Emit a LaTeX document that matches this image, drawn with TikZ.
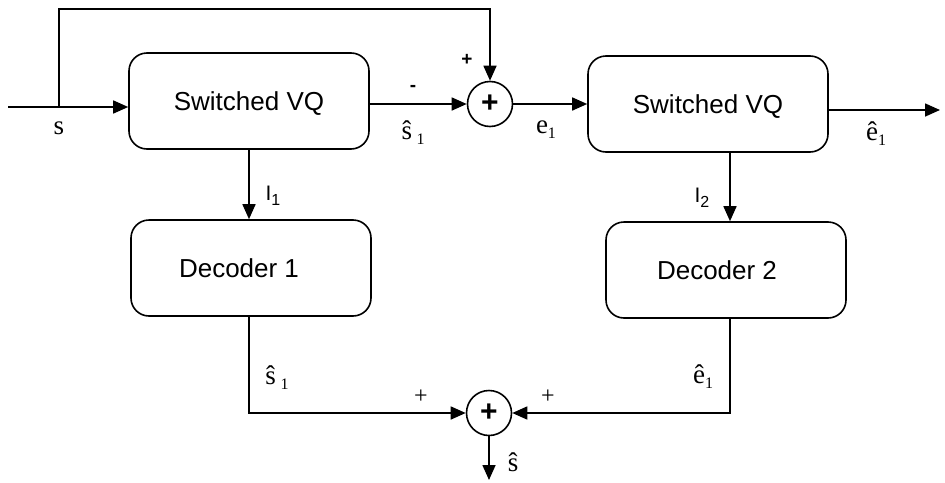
\documentclass[tikz,border=0pt]{standalone}
\usepackage{fontspec}
\setmainfont{Liberation Serif}
\setsansfont{Liberation Sans}
\usetikzlibrary{arrows.meta}
\newcommand\fsz[1]{\fontsize{#1}{#1}\selectfont}
\newcommand\lowsub[1]{\raisebox{-5pt}{\fsz{16}#1}}
\begin{document}
\begin{tikzpicture}[x=1pt,y=-1pt,
  blk/.style={draw,line width=1.6pt,rounded corners=18pt,minimum width=240pt,minimum height=96pt,text depth=0pt,font=\sffamily\fsz{26}},
  sumn/.style={draw,circle,line width=1.6pt,minimum size=45pt,inner sep=0pt,font=\sffamily\bfseries\fsz{30}},
  wire/.style={line width=1.6pt},
  arr/.style={wire,-{Triangle[length=15pt,width=13pt]}},
  lbl/.style={inner sep=0pt,font=\fsz{27}},
  slbl/.style={inner sep=0pt,font=\sffamily\fsz{21}},
  sgn/.style={inner sep=0pt,font=\sffamily\bfseries\fsz{19}},
  psgn/.style={inner sep=0pt,font=\fsz{24}}]
\useasboundingbox (0,0) rectangle (945,482);
\node[blk] (box1) at (249,101) {Switched VQ};
\node[blk] (box2) at (708,104) {Switched VQ};
\node[blk] (dec1) at (251,268) {Decoder 1\hspace*{24pt}};
\node[blk] (dec2) at (726,270) {Decoder 2\hspace*{18pt}};
\node[sumn] (sum1) at (490,104) {+};
\node[sumn] (sum2) at (489,413) {+};
\coordinate (in) at (8,107);
\coordinate (tap) at (59,107);
\coordinate (top) at (490,9);
\coordinate (out2) at (940,110);
\coordinate (out3) at (489,480);
\coordinate (x1) at (249,0);
\coordinate (x2) at (730,0);
% connectors
\draw[arr] (in) -- (in -| box1.west);
\draw[arr] (tap) |- (top) -- (sum1.north);
\draw[arr] (sum1.west -| box1.east) -- (sum1.west);
\draw[arr] (sum1.east) -- (box2.west);
\draw[arr] (out2 -| box2.east) -- (out2);
\draw[arr] (box1.south -| x1) -- (dec1.north -| x1);
\draw[arr] (box2.south -| x2) -- (dec2.north -| x2);
\draw[arr] (dec1.south -| x1) |- (sum2.west);
\draw[arr] (dec2.south -| x2) |- (sum2.east);
\draw[arr] (sum2.south) -- (out3);
% labels
\node[lbl] (ls) at (59,128) {s};
\node[sgn] (lp1) at (467,60) {+};
\node[sgn] (lm1) at (413,88) {-};
\node[lbl] (ls1) at (413,133) {\^{s}\,\lowsub{1}};
\node[lbl] (le1) at (546,130) {e\lowsub{1}};
\node[lbl] (leh1) at (876,134) {\^{e}\lowsub{1}};
\node[slbl] (li1) at (273,196) {I\lowsub{1}};
\node[slbl] (li2) at (702,198) {I\lowsub{2}};
\node[lbl] (ls1b) at (277,378) {\^{s}\,\lowsub{1}};
\node[psgn] (lp2) at (421,397) {+};
\node[psgn] (lp3) at (548,397) {+};
\node[lbl] (leh1b) at (703,377) {\^{e}\lowsub{1}};
\node[lbl] (lsh) at (513,462) {\^{s}};
\end{tikzpicture}
\end{document}
